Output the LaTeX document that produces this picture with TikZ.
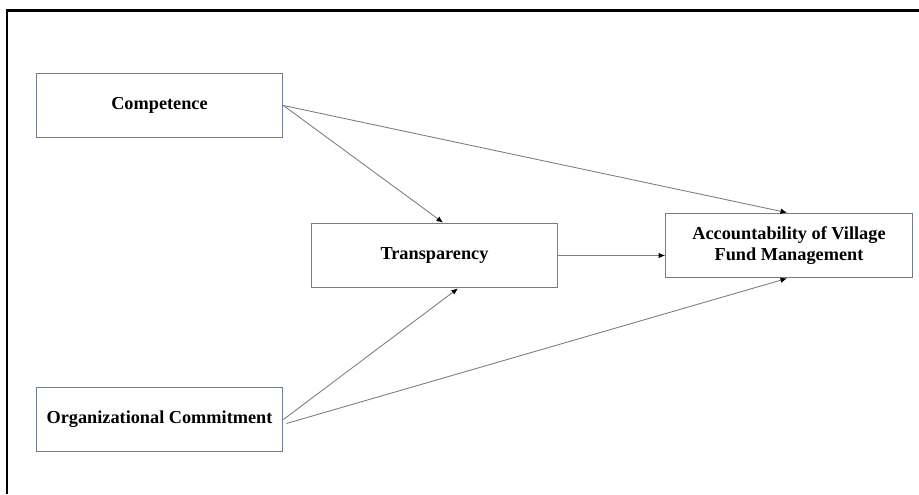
\documentclass[tikz,border=0pt]{standalone}
\usepackage{fontspec}
\setmainfont{Liberation Serif}
\usepackage{xcolor}
\usepackage{tikz}
\usetikzlibrary{positioning,calc,arrows.meta}
\definecolor{BoxSlate}{RGB}{110,124,152}

\begin{document}
\begin{tikzpicture}[
	x=0.02cm, y=-0.02cm
	]
	\definecolor{lineGray}{RGB}{125,125,125}
	\tikzset{
		varbox/.style={
			shape=rectangle,
			draw=BoxSlate,
			line width=0.75pt,
			fill=white,
			minimum width=4.93cm,
			minimum height=1.29cm,
			align=center,
			font=\bfseries\fontsize{10.4}{11.6}\selectfont,
			text=black
		},
		pathedge/.style={draw=lineGray, line width=0.5pt, -{Latex[color=black,length=1.3mm,width=1.1mm]}}
	}
	\useasboundingbox (0,0) rectangle (919,494);
	\draw[line width=1.5pt] (7,494) -- (7,10.5) -- (919,10.5);

	\node[varbox] (comp) at (159.5,105.5) {Competence};
	\node[varbox] (trans) at (434.5,255.5) {Transparency};
	\node[varbox] (acc) at (789,245.5) {Accountability of Village\\Fund Management};
	\node[varbox] (org) at (159.5,419.5) {Organizational Commitment};

	\draw[pathedge] (comp.east) -- ($(trans.north)+(8.5,0)$);
	\draw[pathedge] (comp.east) -- ($(acc.north)+(-2,0)$);
	\draw[pathedge] (trans.east) -- (trans.east -| acc.west);
	\draw[pathedge] (org.east) -- ($(trans.south)+(23.5,0)$);
	\draw[pathedge] ($(org.east)+(3,4)$) -- ($(acc.south)+(-2,0)$);
\end{tikzpicture}
\end{document}
